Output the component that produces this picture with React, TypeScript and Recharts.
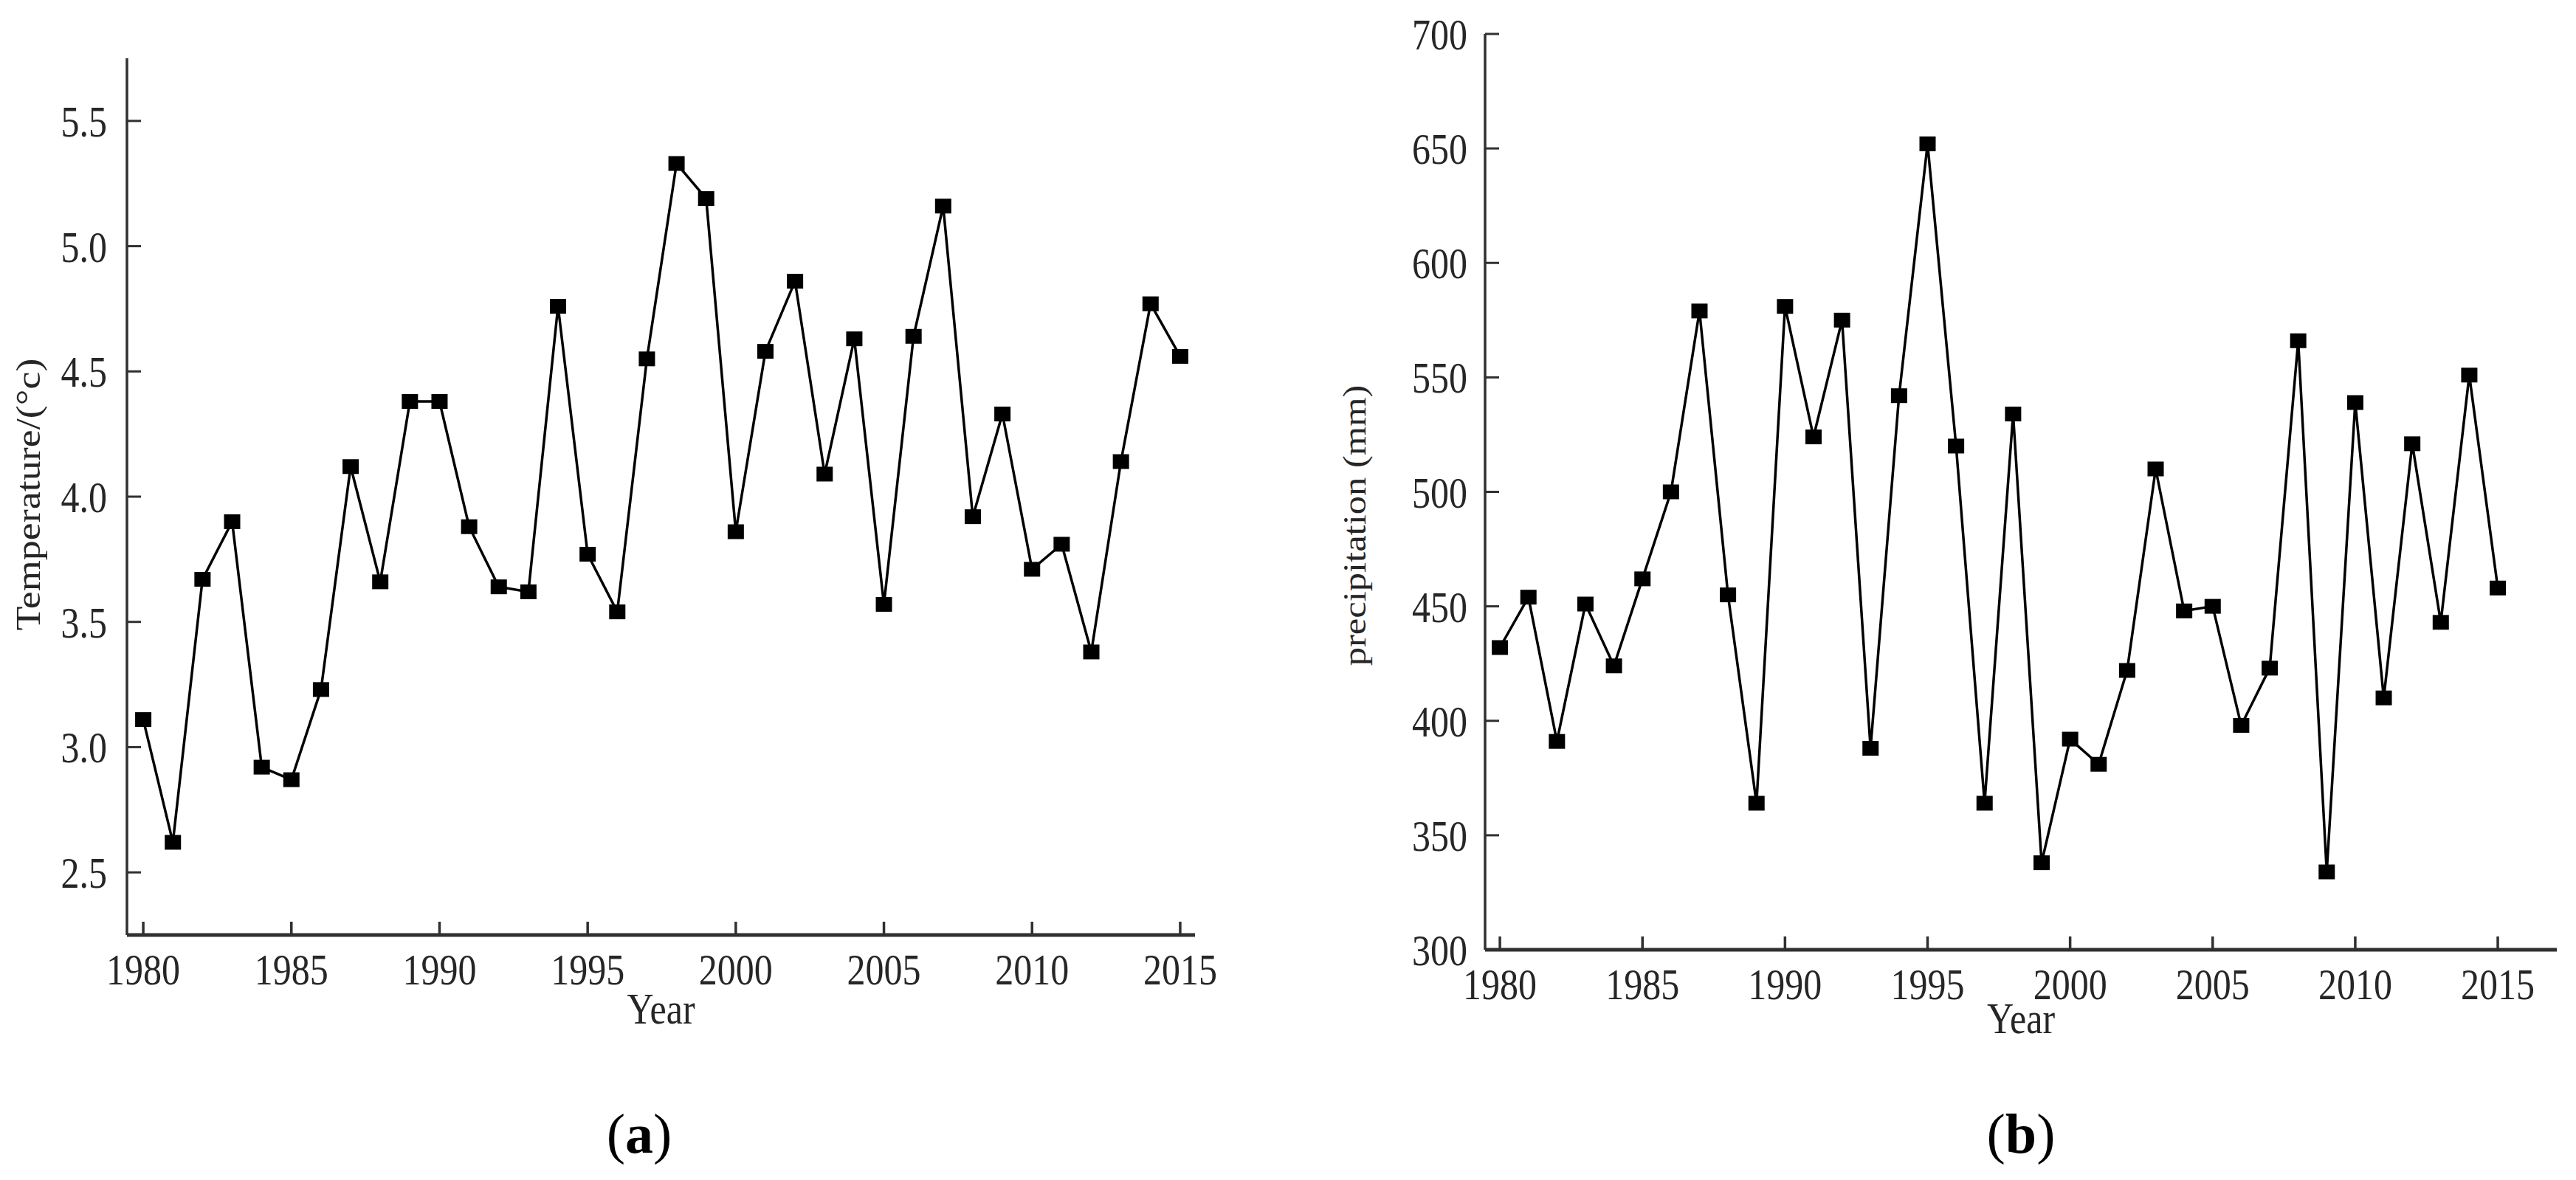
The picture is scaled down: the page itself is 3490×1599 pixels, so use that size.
import { LineChart, Line, XAxis, YAxis } from 'recharts';

const years = [
  1980, 1981, 1982, 1983, 1984, 1985, 1986, 1987, 1988, 1989, 1990, 1991,
  1992, 1993, 1994, 1995, 1996, 1997, 1998, 1999, 2000, 2001, 2002, 2003,
  2004, 2005, 2006, 2007, 2008, 2009, 2010, 2011, 2012, 2013, 2014, 2015,
];

// mean annual temperature (°C)
const temperature = [
  3.11, 2.62, 3.67, 3.9, 2.92, 2.87, 3.23, 4.12, 3.66, 4.38, 4.38, 3.88,
  3.64, 3.62, 4.76, 3.77, 3.54, 4.55, 5.33, 5.19, 3.86, 4.58, 4.86, 4.09,
  4.63, 3.57, 4.64, 5.16, 3.92, 4.33, 3.71, 3.81, 3.38, 4.14, 4.77, 4.56,
];

// annual precipitation (mm)
const precipitation = [
  432, 454, 391, 451, 424, 462, 500, 579, 455, 364, 581, 524,
  575, 388, 542, 652, 520, 364, 534, 338, 392, 381, 422, 510,
  448, 450, 398, 423, 566, 334, 539, 410, 521, 443, 551, 458,
];

const yearTicks = [1980, 1985, 1990, 1995, 2000, 2005, 2010, 2015];
const tempTicks = [2.5, 3.0, 3.5, 4.0, 4.5, 5.0, 5.5];
const precipTicks = [300, 350, 400, 450, 500, 550, 600, 650, 700];

const FONT = '"Liberation Serif", "Times New Roman", serif';
const INK = '#262626';
const AXIS = '#303030';

const tempData = years.map((year, i) => ({ year, value: temperature[i] }));
const precipData = years.map((year, i) => ({ year, value: precipitation[i] }));

function XTick({ x, y, payload }: any) {
  return (
    <g>
      <line x1={x} y1={y} x2={x} y2={y - 18} stroke={AXIS} strokeWidth={3.5} />
      <text
        transform={`translate(${x},${y}) scale(1,1.2)`}
        y={56}
        textAnchor="middle"
        fontSize={50}
        fontFamily={FONT}
        fill={INK}
      >
        {payload.value}
      </text>
    </g>
  );
}

function makeYTick(fmt: (v: number) => string, gap: number) {
  return function YTick({ x, y, payload }: any) {
    return (
      <g>
        <line x1={x} y1={y} x2={x + 19} y2={y} stroke={AXIS} strokeWidth={3} />
        <text
          transform={`translate(${x - gap},${y}) scale(1,1.2)`}
          dy="0.35em"
          textAnchor="end"
          fontSize={50}
          fontFamily={FONT}
          fill={INK}
        >
          {fmt(payload.value)}
        </text>
      </g>
    );
  };
}

const TempYTick = makeYTick((v) => v.toFixed(1), 27);
const PrecipYTick = makeYTick((v) => String(v), 24);

function square(props: any) {
  const { cx, cy, index } = props;
  return <rect key={`sq-${index}`} x={cx - 11} y={cy - 10} width={22} height={20} fill="#000" />;
}

function xTitle(dy: number) {
  return (props: any) => {
    const vb = props.viewBox;
    return (
      <text
        transform={`translate(${vb.x + vb.width / 2},${vb.y + dy}) scale(1,1.2)`}
        textAnchor="middle"
        fontSize={50}
        fontFamily={FONT}
        fill={INK}
      >
        Year
      </text>
    );
  };
}

function yTitle(text: string, cx: number, cy: number, size: number) {
  return () => (
    <text
      transform={`translate(${cx},${cy}) rotate(-90) scale(1.15,1)`}
      textAnchor="middle"
      fontSize={size}
      fontFamily={FONT}
      fill={INK}
    >
      {text}
    </text>
  );
}

export default function App() {
  return (
    <div style={{ position: 'absolute', left: 0, top: 0, width: 3490, height: 1599, background: '#fff' }}>
      {/* (a) temperature */}
      <div style={{ position: 'absolute', left: 0, top: 0 }}>
        <LineChart width={1700} height={1450} data={tempData} margin={{ top: 79, right: 81, left: 0, bottom: 0 }}>
          <XAxis
            dataKey="year"
            type="number"
            domain={[1979.45, 2015.5]}
            ticks={yearTicks}
            interval={0}
            height={183}
            tickSize={0}
            tickMargin={0}
            tickLine={false}
            axisLine={{ stroke: AXIS, strokeWidth: 5 }}
            tick={<XTick />}
            label={{ content: xTitle(120) }}
          />
          <YAxis
            type="number"
            domain={[2.25, 5.75]}
            ticks={tempTicks}
            interval={0}
            width={172}
            tickSize={0}
            tickMargin={0}
            tickLine={false}
            axisLine={{ stroke: AXIS, strokeWidth: 3.5 }}
            tick={<TempYTick />}
            label={{ content: yTitle('Temperature/(°c)', 54, 670, 47) }}
          />
          <Line
            type="linear"
            dataKey="value"
            stroke="#000"
            strokeWidth={3.5}
            dot={square}
            activeDot={false}
            isAnimationActive={false}
          />
        </LineChart>
      </div>

      {/* (b) precipitation */}
      <div style={{ position: 'absolute', left: 1745, top: 0 }}>
        <LineChart width={1745} height={1450} data={precipData} margin={{ top: 46, right: 26, left: 0, bottom: 0 }}>
          <XAxis
            dataKey="year"
            type="number"
            domain={[1979.48, 2017.07]}
            ticks={yearTicks}
            interval={0}
            height={163}
            tickSize={0}
            tickMargin={0}
            tickLine={false}
            axisLine={{ stroke: AXIS, strokeWidth: 5 }}
            tick={<XTick />}
            label={{ content: xTitle(113) }}
          />
          <YAxis
            type="number"
            domain={[300, 700]}
            ticks={precipTicks}
            interval={0}
            width={267}
            tickSize={0}
            tickMargin={0}
            tickLine={false}
            axisLine={{ stroke: AXIS, strokeWidth: 3.5 }}
            tick={<PrecipYTick />}
            label={{ content: yTitle('precipitation (mm)', 105, 712, 44) }}
          />
          <Line
            type="linear"
            dataKey="value"
            stroke="#000"
            strokeWidth={3.5}
            dot={square}
            activeDot={false}
            isAnimationActive={false}
          />
        </LineChart>
      </div>

      {/* panel captions */}
      <svg width={3490} height={1599} style={{ position: 'absolute', left: 0, top: 0, pointerEvents: 'none' }}>
        <text x={866} y={1562} textAnchor="middle" fontSize={76} fontFamily={FONT} fill="#000">
          (<tspan fontWeight="bold">a</tspan>)
        </text>
        <text x={2738} y={1562} textAnchor="middle" fontSize={76} fontFamily={FONT} fill="#000">
          (<tspan fontWeight="bold">b</tspan>)
        </text>
      </svg>
    </div>
  );
}
